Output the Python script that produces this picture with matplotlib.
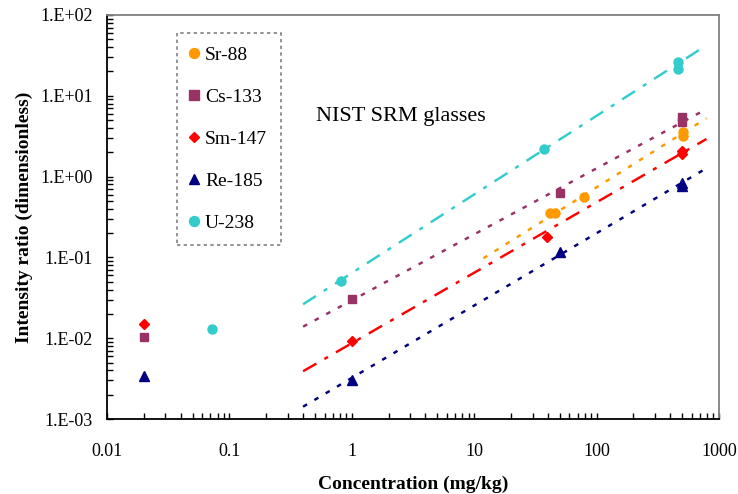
import numpy as np
import matplotlib
matplotlib.use("Agg")
import matplotlib.pyplot as plt
from matplotlib.ticker import LogLocator, FuncFormatter, NullFormatter

plt.rcParams["font.family"] = "Liberation Serif"

# measured intensity ratios per isotope (concentration in mg/kg)
sr_x = [42, 46, 79, 510, 510]
sr_y = [0.35, 0.35, 0.56, 3.55, 3.2]
cs_x = [0.02, 1.0, 50, 500, 500]
cs_y = [0.0103, 0.0303, 0.63, 5.4, 4.7]
sm_x = [0.02, 1.0, 39, 500, 500]
sm_y = [0.015, 0.0092, 0.18, 2.1, 1.9]
re_x = [0.02, 1.0, 50, 500, 500]
re_y = [0.0034, 0.00304, 0.118, 0.84, 0.76]
u_x = [0.072, 0.82, 37.4, 465, 465]
u_y = [0.0131, 0.0515, 2.2, 26.0, 21.5]

# power-law trend lines, start and end points
sr_trend_x = [11.9, 790]
sr_trend_y = [0.0975, 5.27]
cs_trend_x = [0.40, 783]
cs_trend_y = [0.0139, 6.8]
sm_trend_x = [0.40, 790]
sm_trend_y = [0.0039, 2.92]
re_trend_x = [0.40, 790]
re_trend_y = [0.00142, 1.27]
u_trend_x = [0.40, 723]
u_trend_y = [0.0263, 38.7]

x_ticks = [0.01, 0.1, 1, 10, 100, 1000]
y_ticks = [1e-3, 1e-2, 1e-1, 1e0, 1e1, 1e2]

DOTTED = (0, (1.9, 3.5))
DASHDOT = (0, (6.3, 3.8, 1.7, 3.8))

series = [
    ("Sr-88", sr_x, sr_y, sr_trend_x, sr_trend_y, "#FF9900", "o", 6.5, DOTTED),
    ("Cs-133", cs_x, cs_y, cs_trend_x, cs_trend_y, "#993366", "s", 6.0, DOTTED),
    ("Sm-147", sm_x, sm_y, sm_trend_x, sm_trend_y, "#FF0000", "D", 4.8, DASHDOT),
    ("Re-185", re_x, re_y, re_trend_x, re_trend_y, "#000080", "^", 6.5, DOTTED),
    ("U-238", u_x, u_y, u_trend_x, u_trend_y, "#33CCCC", "o", 6.5, DASHDOT),
]

W, H = 738, 494
fig = plt.figure(figsize=(W / 100, H / 100), dpi=100)
ax = fig.add_axes([107 / W, 1 - 419 / H, (719 - 107) / W, (419 - 15) / H])

for label, x, y, tx, ty, color, marker, ms, ls in series:
    ax.plot(tx, ty, color=color, lw=1.75, linestyle=ls, zorder=2)
for label, x, y, tx, ty, color, marker, ms, ls in series:
    ax.plot(x, y, linestyle="none", marker=marker, ms=ms, color=color,
            mec=color, label=label, zorder=3)

ax.set_xscale("log")
ax.set_yscale("log")
ax.set_xlim(0.01, 1000)
ax.set_ylim(1e-3, 1e2)

ax.set_xticks(x_ticks)
ax.set_yticks(y_ticks)
ax.xaxis.set_major_formatter(FuncFormatter(lambda v, _: f"{v:g}"))
ax.yaxis.set_major_formatter(
    FuncFormatter(lambda v, _: f"1.E{int(round(np.log10(v))):+03d}"))
for axis in (ax.xaxis, ax.yaxis):
    axis.set_minor_locator(LogLocator(base=10, subs=np.arange(2, 10), numticks=20))
    axis.set_minor_formatter(NullFormatter())

ax.tick_params(axis="both", which="both", direction="in", length=4.5,
               width=1.0, colors="black", labelsize=13)
ax.tick_params(axis="x", which="major", pad=17)
ax.tick_params(axis="y", which="major", pad=10)
ax.tick_params(top=False, right=False, which="both")

for side in ("left", "bottom"):
    ax.spines[side].set_color("black")
    ax.spines[side].set_linewidth(1.3)
for side in ("top", "right"):
    ax.spines[side].set_color("#808080")
    ax.spines[side].set_linewidth(1.3)

ax.set_xlabel("Concentration (mg/kg)", fontsize=14, fontweight="bold")
ax.set_ylabel("Intensity ratio (dimensionless)", fontsize=14, fontweight="bold")
ax.xaxis.set_label_coords(0.5, -0.14)
ax.yaxis.set_label_coords(-0.121, 0.5)

fig.text(316 / W, 1 - 116 / H, "NIST SRM glasses", fontsize=16,
         ha="left", va="center")

leg = ax.legend(loc="upper left", bbox_to_anchor=(177 / W, 1 - 33 / H),
                bbox_transform=fig.transFigure, fontsize=14, frameon=True,
                fancybox=False, edgecolor="#808080", framealpha=1,
                borderpad=0.7, labelspacing=1.25, handlelength=0.3,
                handletextpad=0.44, borderaxespad=0, numpoints=1,
                markerscale=1.1)
frame = leg.get_frame()
frame.set_linestyle((0, (2, 2)))
frame.set_linewidth(1.2)

fig.savefig("out.png", dpi=100)
